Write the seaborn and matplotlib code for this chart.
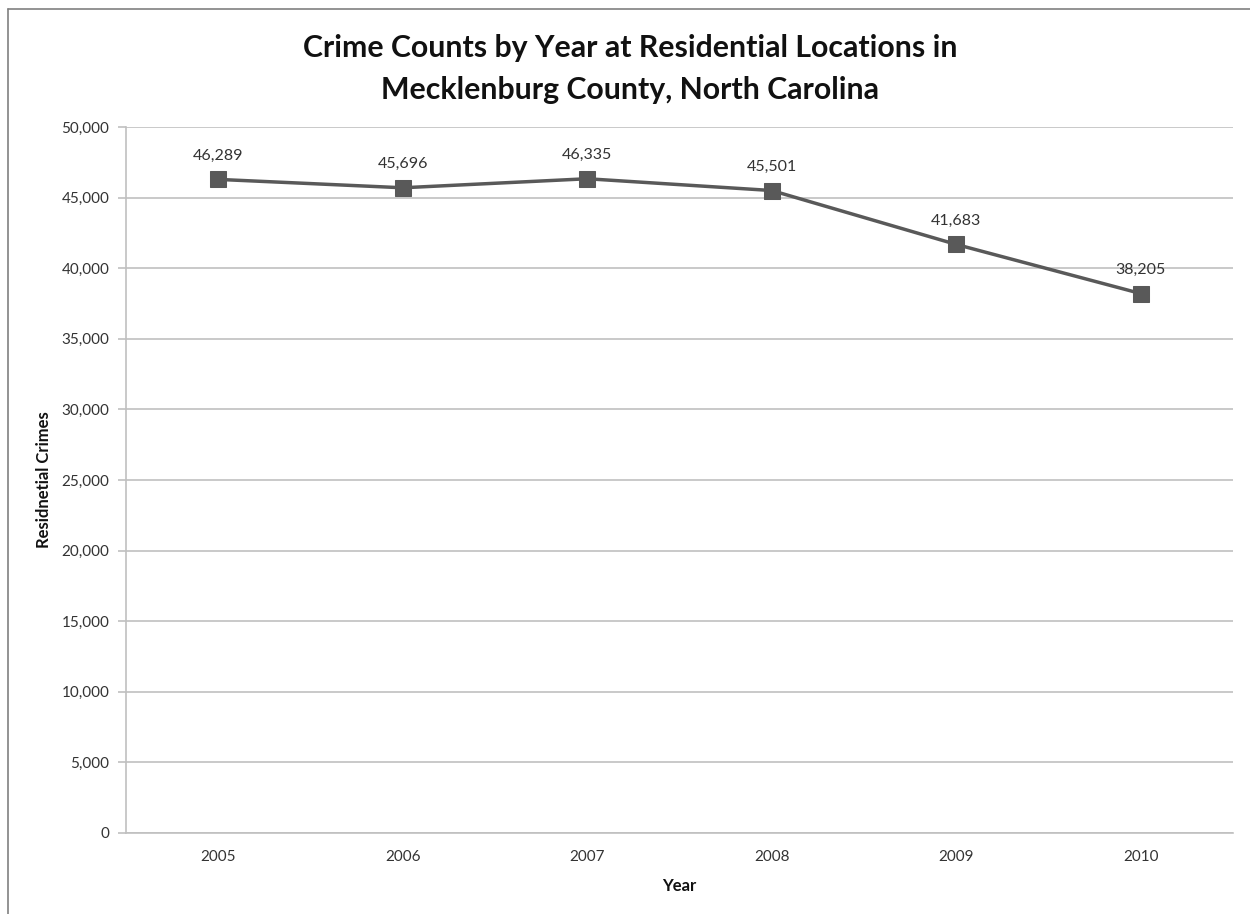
import matplotlib
matplotlib.use("Agg")
import matplotlib.pyplot as plt
import seaborn as sns
import pandas as pd
from matplotlib.ticker import FuncFormatter, MultipleLocator
from matplotlib.lines import Line2D

years = ["2005", "2006", "2007", "2008", "2009", "2010"]
crimes = [46289, 45696, 46335, 45501, 41683, 38205]

df = pd.DataFrame({"Year": years, "Crimes": crimes})

sns.set_theme(style="white")
plt.rcParams["font.family"] = ["Lato", "DejaVu Sans"]

fig = plt.figure(figsize=(12.5, 9.14), dpi=100)
ax = fig.add_axes([126/1250, 1-833/914, (1233-126)/1250, (833-127)/914])

sns.lineplot(data=df, x="Year", y="Crimes", ax=ax, color="#595959", linewidth=2.5,
             marker="s", markersize=11.5, markeredgecolor="#595959", markerfacecolor="#595959",
             sort=False)

ax.set_xlim(-0.5, len(years) - 0.5)
ax.set_ylim(0, 50000)
ax.yaxis.set_major_locator(MultipleLocator(5000))
ax.yaxis.set_major_formatter(FuncFormatter(lambda v, p: f"{int(v):,}"))
ax.grid(axis="y", color="#c0c0c0", linewidth=1.2)
ax.set_axisbelow(True)
for s in ["top", "right"]:
    ax.spines[s].set_visible(False)
for s in ["left", "bottom"]:
    ax.spines[s].set_color("#c0c0c0")
    ax.spines[s].set_linewidth(1.2)
ax.tick_params(axis="y", length=6, color="#c0c0c0", width=1.2, labelsize=11,
               labelcolor="#333333", left=True, pad=6)
ax.tick_params(axis="x", length=0, labelsize=11, labelcolor="#333333", pad=12)

for i, v in enumerate(crimes):
    ax.annotate(f"{v:,}", (i, v), xytext=(0, 12), textcoords="offset points",
                ha="center", va="bottom", fontsize=11.5, color="#333333")

ax.set_xlabel("Year", fontsize=12, fontweight="bold", color="#111111", labelpad=10)
ax.set_ylabel("Residnetial Crimes", fontsize=12, fontweight="bold", color="#111111", labelpad=7)

fig.text(630/1250, 1-69/914, "Crime Counts by Year at Residential Locations in\nMecklenburg County, North Carolina",
         ha="center", va="center", fontsize=21.8, fontweight="bold", color="#111111", linespacing=1.6)

fig.add_artist(Line2D([8/1250, 8/1250], [0, 1-9/914], transform=fig.transFigure, color="#808080", linewidth=1.2))
fig.add_artist(Line2D([8/1250, 1], [1-9/914, 1-9/914], transform=fig.transFigure, color="#808080", linewidth=1.2))

fig.savefig("out.png", dpi=100, facecolor="white")
